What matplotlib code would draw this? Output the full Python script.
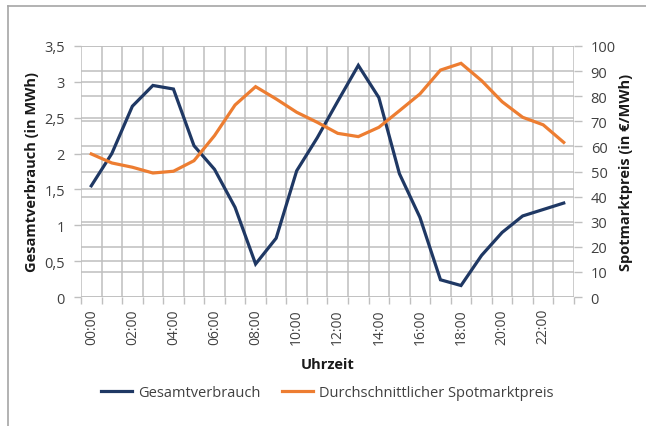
import matplotlib
matplotlib.use("Agg")
import matplotlib.pyplot as plt
from matplotlib.lines import Line2D
from matplotlib.ticker import FixedLocator, FixedFormatter, MultipleLocator

plt.rcParams['font.family'] = ['Open Sans', 'DejaVu Sans']

hours = [f"{h:02d}:00" for h in range(24)]
verbrauch = [1.55, 2.0, 2.66, 2.95, 2.90, 2.11, 1.78, 1.25, 0.46, 0.82, 1.76, 2.22,
             2.73, 3.23, 2.78, 1.72, 1.11, 0.24, 0.16, 0.58, 0.90, 1.13, 1.22, 1.31]
preis = [57.0, 53.4, 51.7, 49.4, 50.1, 54.3, 64.3, 76.5, 83.8, 78.9, 73.6, 69.6,
         65.2, 63.9, 67.6, 74.2, 80.9, 90.4, 93.1, 86.2, 77.8, 71.6, 68.6, 61.6]
left_ticks = [0, 0.5, 1, 1.5, 2, 2.5, 3, 3.5]
left_labels = ["0", "0,5", "1", "1,5", "2", "2,5", "3", "3,5"]
right_ticks = list(range(0, 101, 10))

BLUE = "#1f3864"
ORANGE = "#ed7d31"
GRID = "#bfbfbf"
TXT = "#404040"

W, H = 646, 427
fig = plt.figure(figsize=(W / 100, H / 100), dpi=100)
ax = fig.add_axes([81 / W, 1 - 298 / H, (574 - 81) / W, (298 - 47) / H])
ax2 = ax.twinx()

x = list(range(len(hours)))

for a in (ax, ax2):
    for s in a.spines.values():
        s.set_visible(False)
    a.set_axisbelow(True)

ax.set_xlim(-0.5, 23.5)
ax.set_ylim(0, 3.5)

# primary axis
ax.yaxis.set_major_locator(FixedLocator(left_ticks))
ax.yaxis.set_major_formatter(FixedFormatter(left_labels))
ax.xaxis.set_major_locator(FixedLocator(x[::2]))
ax.xaxis.set_major_formatter(FixedFormatter(hours[::2]))
ax.xaxis.set_minor_locator(MultipleLocator(1, offset=0.5))
ax.tick_params(axis='x', which='major', length=0, pad=8, labelrotation=90,
               labelsize=10, labelcolor=TXT)
ax.tick_params(axis='x', which='minor', length=5, width=1, color=GRID)
ax.tick_params(axis='y', length=5, width=1, color=GRID, labelsize=10.5,
               labelcolor=TXT, pad=6.5)
ax.grid(True, axis='y', color=GRID, lw=1.1)
ax.grid(True, axis='x', which='minor', color=GRID, lw=1.1)

# secondary axis
ax2.yaxis.set_major_locator(FixedLocator(right_ticks))
ax2.tick_params(axis='y', length=6, width=1, color=GRID, labelsize=10.5,
                labelcolor=TXT, pad=6)
ax2.grid(True, axis='y', color=GRID, lw=1.1)

l1, = ax2.plot(x, verbrauch, color=BLUE, lw=2.3, transform=ax.transData,
               solid_joinstyle='miter', label="Gesamtverbrauch")
l2, = ax2.plot(x, preis, color=ORANGE, lw=2.3, solid_joinstyle='miter',
               label="Durchschnittlicher Spotmarktpreis")
ax2.set_xlim(-0.5, 23.5)
ax2.set_ylim(0, 100)

ax.set_ylabel("Gesamtverbrauch (in MWh)", fontsize=10.5, fontweight='bold', color="#1a1a1a")
ax.yaxis.set_label_coords(-(81 - 39) / (574 - 81), 0.5)
ax2.set_ylabel("Spotmarktpreis (in €/MWh)", fontsize=10.5, fontweight='bold', color="#1a1a1a")
ax2.yaxis.set_label_coords(1 + (619 - 574) / (574 - 81), 0.5)
ax.set_xlabel("Uhrzeit", fontsize=10.5, fontweight='bold', color="#1a1a1a")
ax.xaxis.set_label_coords(0.5, -(365 - 298) / (298 - 47))
ax.xaxis.label.set_verticalalignment('center')

fig.legend(handles=[l1, l2], loc='center', bbox_to_anchor=((81 + 574) / 2 / W, 1 - 394 / H),
           ncol=2, frameon=False, fontsize=10.5, handlelength=2.1, columnspacing=1.45,
           handletextpad=0.45, labelcolor=TXT)

# outer chart border (top and left)
fig.add_artist(Line2D([8 / W, 1.0], [1 - 7 / H, 1 - 7 / H], transform=fig.transFigure,
                      color="#a6a6a6", lw=1.2))
fig.add_artist(Line2D([8 / W, 8 / W], [0, 1 - 7 / H], transform=fig.transFigure,
                      color="#a6a6a6", lw=1.2))

fig.savefig("out.png", dpi=100)
